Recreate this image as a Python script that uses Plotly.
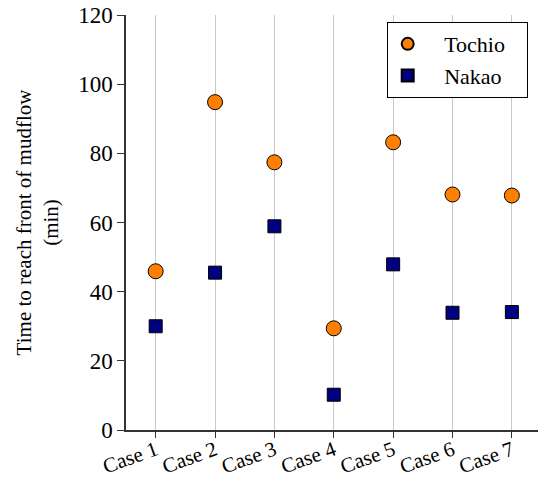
import plotly.graph_objects as go

cases = ["Case 1", "Case 2", "Case 3", "Case 4", "Case 5", "Case 6", "Case 7"]
tochio = [45.9, 94.8, 77.4, 29.4, 83.2, 68.1, 67.8]
nakao = [30.0, 45.5, 58.9, 10.2, 47.9, 33.9, 34.1]

font = "Liberation Serif, Times New Roman, serif"
pad = "&nbsp;" * 3

fig = go.Figure()
fig.add_trace(go.Scatter(
    x=list(range(len(cases))), y=tochio, mode="markers", name=pad + "Tochio" + pad,
    marker=dict(symbol="circle", size=15, color="#FF8000", line=dict(color="#000000", width=1)),
))
fig.add_trace(go.Scatter(
    x=list(range(len(cases))), y=nakao, mode="markers", name=pad + "Nakao" + pad,
    marker=dict(symbol="square", size=13, color="#000080", line=dict(color="#000000", width=1)),
))

fig.update_layout(
    width=538, height=481,
    margin=dict(l=126, r=0, t=15, b=51),
    paper_bgcolor="white", plot_bgcolor="white",
    font=dict(family=font, size=21, color="black"),
    showlegend=True,
    legend=dict(
        x=0.975, y=0.983, xanchor="right", yanchor="top",
        bordercolor="black", borderwidth=1, bgcolor="white",
        font=dict(family=font, size=22),
        itemsizing="constant", tracegroupgap=0,
    ),
    xaxis=dict(
        range=[-0.5, 6.44],
        tickmode="array", tickvals=list(range(len(cases))), ticktext=cases,
        tickangle=-20,
        showgrid=True, gridcolor="#c8c8c8", gridwidth=1,
        showline=True, linecolor="#333333", linewidth=1.5,
        ticks="outside", ticklen=6, tickcolor="#333333",
        tickfont=dict(family=font, size=21),
        ticklabelstandoff=-8,
        zeroline=False, automargin=False,
    ),
    yaxis=dict(
        range=[0, 120], dtick=20,
        showgrid=False,
        showline=True, linecolor="#333333", linewidth=1.5,
        ticks="outside", ticklen=7, tickcolor="#333333",
        tickfont=dict(family=font, size=23),
        title=dict(text="Time to reach front of mudflow<br>(min)", font=dict(family=font, size=21), standoff=14),
        zeroline=False, automargin=False,
    ),
)

fig.write_html("out.html")
